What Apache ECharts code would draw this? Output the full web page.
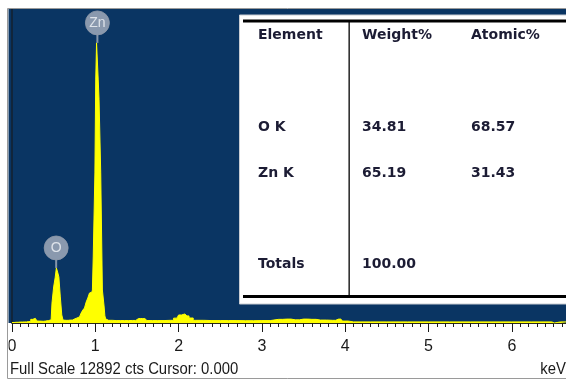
<!DOCTYPE html>
<html><head><meta charset="utf-8">
<script src="https://cdn.jsdelivr.net/npm/echarts@6/dist/echarts.min.js"></script>
<style>html,body{margin:0;padding:0;background:#fff}#c{width:566px;height:380px}</style>
</head><body><div id="c"></div>
<script>
// Spectrum: energy (keV) and counts
var energy = [0.00,0.05,0.10,0.15,0.20,0.25,0.27,0.29,0.31,0.35,0.40,0.44,0.47,0.49,0.51,0.525,0.54,0.555,0.57,0.59,0.605,0.62,0.65,0.70,0.75,0.78,0.80,0.82,0.84,0.86,0.88,0.90,0.92,0.94,0.96,0.97,0.98,0.99,1.00,1.01,1.02,1.03,1.04,1.05,1.06,1.07,1.08,1.09,1.10,1.11,1.12,1.13,1.16,1.25,1.35,1.45,1.52,1.57,1.62,1.75,1.90,1.98,2.02,2.05,2.10,2.15,2.20,2.40,2.60,2.80,3.00,3.20,3.30,3.40,3.50,3.60,3.70,3.85,3.92,3.97,4.10,4.50,5.00,5.50,6.00,6.48,6.50,6.52,6.65];
var counts = [20,30,40,45,60,150,190,160,80,70,80,100,130,820,1480,1850,2260,2090,1890,1070,330,120,110,120,165,205,250,290,410,530,615,860,1025,1230,1270,1355,2710,2710,6160,9980,11500,11500,9980,9160,9160,6160,6160,1355,1355,700,290,165,110,100,100,105,185,180,100,100,110,200,330,370,290,205,110,100,100,95,100,150,160,130,160,150,120,110,160,80,45,45,45,45,45,45,0,45,45];
var fullScale = 12892;
var xTicks = [0,1,2,3,4,5,6];
// Peak labels
var peakNames = ['O','Zn'];
var peakEnergy = [0.53, 1.025];
var peakCounts = [2260, 11500];
// Quantification table
var tableHeader = ['Element','Weight%','Atomic%'];
var tableElements = ['O K','Zn K','Totals'];
var tableWeight = ['34.81','65.19','100.00'];
var tableAtomic = ['68.57','31.43',''];
var footerText = 'Full Scale 12892 cts Cursor: 0.000';
var unitText = 'keV';

var spec = energy.map(function(e,i){return [e,counts[i]];});
var peaks = peakEnergy.map(function(e,i){return {value:[e,peakCounts[i]], name:peakNames[i]};});

var BLUE = '#0a3563';
var tFont = 'bold 14px "DejaVu Sans"';
var tColor = '#1c1c34';
var rowY = [35,127,173,264];
var colX = [258,362,471];
var g = [];
g.push({type:'rect', z:-10, shape:{x:8,y:9,width:560,height:314}, style:{fill:BLUE}});
// table panel
g.push({type:'rect', z:50, shape:{x:239.5,y:15,width:340,height:289}, style:{fill:'#fff', stroke:'#c8ccd2', lineWidth:1}});
g.push({type:'rect', z:51, shape:{x:243,y:19.5,width:330,height:3}, style:{fill:'#000'}});
g.push({type:'rect', z:51, shape:{x:243,y:295,width:330,height:3}, style:{fill:'#000'}});
g.push({type:'rect', z:51, shape:{x:348.5,y:22,width:1.3,height:273}, style:{fill:'#000'}});
tableHeader.forEach(function(t,i){ g.push({type:'text', z:52, x:colX[i], y:rowY[0], style:{text:t, font:tFont, fill:tColor, verticalAlign:'middle'}}); });
tableElements.forEach(function(t,r){
  g.push({type:'text', z:52, x:colX[0], y:rowY[r+1], style:{text:t, font:tFont, fill:tColor, verticalAlign:'middle'}});
  g.push({type:'text', z:52, x:colX[1], y:rowY[r+1], style:{text:tableWeight[r], font:tFont, fill:tColor, verticalAlign:'middle'}});
  g.push({type:'text', z:52, x:colX[2], y:rowY[r+1], style:{text:tableAtomic[r], font:tFont, fill:tColor, verticalAlign:'middle'}});
});
// footer
g.push({type:'text', z:52, x:10, y:370, scaleX:0.93, style:{text:footerText, font:'16px "Liberation Sans"', fill:'#1a1a1a', verticalAlign:'middle'}});
g.push({type:'text', z:52, x:566, y:370, scaleX:0.93, style:{text:unitText, font:'16px "Liberation Sans"', fill:'#1a1a1a', verticalAlign:'middle', align:'right'}});
// frame
g.push({type:'rect', z:60, shape:{x:0,y:0,width:8.5,height:380}, style:{fill:'#fff'}});
g.push({type:'rect', z:61, shape:{x:7.5,y:8.5,width:570,height:370}, style:{fill:null, stroke:'#9a9a9a', lineWidth:1}});

var chart = echarts.init(document.getElementById('c'), null, {renderer:'canvas'});
chart.setOption({
  animation:false,
  backgroundColor:'#fff',
  grid:{left:12,right:0,top:9,bottom:57},
  xAxis:{type:'value', min:0, max:6.65, interval:1,
    axisLine:{lineStyle:{color:'#2a2a1a',width:1}},
    axisTick:{show:true, length:9, lineStyle:{color:'#1a1a1a'}},
    minorTick:{show:true, splitNumber:10, length:4, lineStyle:{color:'#1a1a1a'}},
    splitLine:{show:false},
    axisLabel:{margin:16, fontSize:16, fontFamily:'"Liberation Sans"', color:'#1a1a1a', showMaxLabel:false,
      formatter:function(v){return xTicks.indexOf(v)>=0 ? String(v) : '';}}
  },
  yAxis:{type:'value', min:0, max:fullScale,
    axisLine:{show:true, lineStyle:{color:'#14202e', width:1.5}},
    axisTick:{show:false}, axisLabel:{show:false}, splitLine:{show:false}},
  series:[
    {type:'line', data:spec, step:'middle', symbol:'none', z:3,
      lineStyle:{color:'#ffff00', width:1}, areaStyle:{color:'#ffff00', opacity:1}},
    {type:'scatter', data:peaks, symbol:'rect', symbolSize:[2,8], symbolOffset:[0,-4], z:4,
      itemStyle:{color:'#a3adbb'}, silent:true},
    {type:'scatter', data:peaks, symbol:'circle', symbolSize:24, symbolOffset:[0,-20], z:5,
      itemStyle:{color:'#aab3c1', borderColor:'#8e99a9', borderWidth:1},
      label:{show:true, position:'inside', formatter:'{b}', color:'#f2f5f9', fontSize:14, fontFamily:'"Liberation Sans"'}}
  ],
  graphic:g
});
</script></body></html>
